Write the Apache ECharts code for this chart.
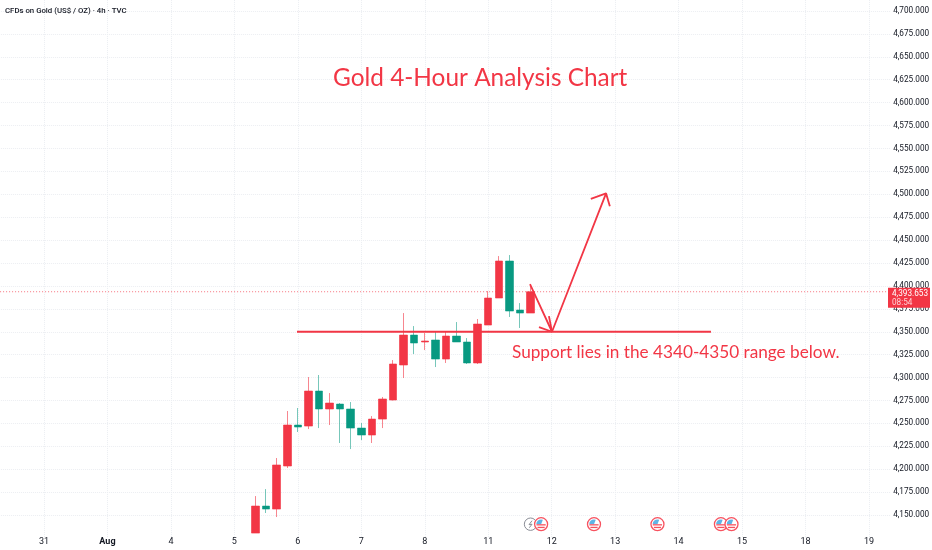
<!DOCTYPE html>
<html>
<head>
<meta charset="utf-8">
<style>html,body{margin:0;padding:0;background:#fff}#c{width:932px;height:550px}</style>
<script src="https://cdn.jsdelivr.net/npm/echarts@6/dist/echarts.min.js"></script>
</head>
<body>
<div id="c"></div>
<script>
// Day labels and the 4-hour slot they sit on
const dayLabels = ['31','Aug','4','5','6','7','8','11','12','13','14','15','18','19'];
const daySlots  = [5,11,17,23,29,35,41,47,53,59,65,71,77,83];
const slotCount = 86;
const firstCandleSlot = 25;

// Candles (prices)
const opens  = [4130.3,4159.8,4156.5,4203.5,4248.2,4247.1,4285.3,4265.7,4271.1,4265.7,4244.9,4237.3,4254.7,4275.5,4313.7,4346.4,4338.8,4341.0,4320.2,4345.3,4338.8,4315.9,4357.3,4386.8,4427.2,4373.7,4370.4];
const closes = [4159.8,4156.5,4204.6,4248.2,4246.0,4285.3,4265.7,4272.2,4265.7,4244.9,4237.3,4254.7,4276.6,4314.8,4346.4,4337.7,4339.9,4320.2,4345.3,4338.8,4315.9,4358.4,4386.8,4427.2,4372.6,4370.4,4393.653];
const lows   = [4130.3,4152.2,4147.8,4201.3,4240.6,4243.8,4244.9,4248.2,4228.6,4222.0,4231.8,4228.6,4244.9,4275.0,4299.5,4325.7,4330.0,4311.5,4315.9,4338.8,4314.8,4314.8,4357.3,4386.8,4366.1,4354.1,4370.4];
const highs  = [4170.7,4178.3,4212.2,4263.5,4266.8,4300.6,4302.8,4283.1,4272.2,4273.3,4250.4,4258.0,4278.8,4319.1,4370.4,4356.2,4348.6,4350.8,4350.8,4360.6,4343.1,4363.9,4394.4,4432.6,4433.7,4381.3,4402.1];
const lastPrice = 4393.653;
const countdown = '08:54';

// Annotations as [slot, price]
const supportLine = [[28.92,4350],[68.06,4350]];
const arrowPath   = [[50.95,4402],[53.03,4350],[58.14,4501]];
const arrowHeadA  = [[51.8,4355],[53.03,4350],[52.74,4367]];
const arrowHeadB  = [[56.7,4495],[58.14,4501],[58.5,4487]];

// Calendar event markers
const usEventSlots = [52,57,63,69,70];
const flashEventSlots = [51];
const eventPrice = 4140;

const titleText = 'Gold 4-Hour Analysis Chart';
const noteText = 'Support lies in the 4340-4350 range below.';
const headerText = 'CFDs on Gold (US$ / OZ) · 4h · TVC';

const RED = '#f23645', GREEN = '#089981';
const FONT = 'Roboto, sans-serif';
const ANNOT = 'Lato, sans-serif';

const categories = Array.from({length: slotCount}, (_, i) => {
  const k = daySlots.indexOf(i);
  return k >= 0 ? dayLabels[k] : '';
});
const candles = categories.map((_, s) => {
  const i = s - firstCandleSlot;
  return i >= 0 && i < opens.length ? [opens[i], closes[i], lows[i], highs[i]] : ['-','-','-','-'];
});

const gridColors = ['rgba(0,0,0,0)'].concat(Array(30).fill('#eceef2'));

function annotation(data, w) {
  return {
    type: 'line', xAxisIndex: 1, yAxisIndex: 0, data, showSymbol: false, symbol: 'none',
    silent: true, z: 5, clip: false, animation: false,
    lineStyle: {color: RED, width: w || 1.8}
  };
}

function renderUs(params, api) {
  const p = api.coord([api.value(0), api.value(1)]);
  const r = 6.5;
  return {
    type: 'group', x: p[0], y: p[1],
    children: [
      {type:'circle', shape:{cx:0,cy:0,r:r}, style:{fill:'#fff',stroke:'#f7525f',lineWidth:1.3}},
      {type:'sector', shape:{cx:0,cy:0,r0:0,r:4.8,startAngle:Math.PI,endAngle:Math.PI*1.62}, style:{fill:'#5fb4e6'}},
      {type:'rect', shape:{x:-4.6,y:0,width:9.2,height:1.3}, style:{fill:'#f7525f'}},
      {type:'rect', shape:{x:-3.6,y:2.6,width:7.2,height:1.3}, style:{fill:'#f7525f'}}
    ]
  };
}
function renderFlash(params, api) {
  const p = api.coord([api.value(0), api.value(1)]);
  return {
    type: 'group', x: p[0], y: p[1],
    children: [
      {type:'circle', shape:{cx:0,cy:0,r:6.2}, style:{fill:'#fff',stroke:'#8a8d96',lineWidth:1}},
      {type:'polyline', shape:{points:[[1.5,-3.5],[-1.5,0.5],[1.5,0],[-1.2,3.5]]}, style:{fill:'none',stroke:'#8a8d96',lineWidth:1}}
    ]
  };
}

const chart = echarts.init(document.getElementById('c'), null, {renderer:'canvas'});
chart.setOption({
  animation: false,
  backgroundColor: '#ffffff',
  title: [
    {text: titleText, left: 328, top: 61, textStyle:{color:RED,fontSize:24.4,fontWeight:'normal',fontFamily:ANNOT}},
    {text: noteText, left: 507, top: 339, textStyle:{color:RED,fontSize:17.2,fontWeight:'normal',fontFamily:ANNOT}},
    {text: headerText, left: 0, top: 2, textStyle:{color:'#131722',fontSize:7.8,fontWeight:500,fontFamily:FONT}}
  ],
  grid: {left: -8.9, top: -11.9, width: 899.05, height: 549.84, containLabel:false, outerBoundsMode:'none'},
  xAxis: [
    {
      type:'category', data: categories, boundaryGap:false,
      axisLine:{show:false}, axisTick:{show:false},
      axisLabel:{
        interval:0, margin:-1, color:'#131722', fontSize:9, fontFamily:FONT,
        hideOverlap:false, showMinLabel:true, showMaxLabel:true,
        formatter: v => v === 'Aug' ? '{b|Aug}' : v,
        rich:{b:{fontWeight:'bold',fontSize:9,color:'#131722',fontFamily:FONT}}
      },
      splitLine:{show:true, interval:(i) => daySlots.includes(i), lineStyle:{color:'#eceef2',type:'dotted',width:1}}
    },
    {type:'value', show:false, min:0, max:slotCount-1, splitLine:{show:false}}
  ],
  yAxis: [{
    type:'value', position:'right', min:4125, max:4725, interval:25, scale:false,
    axisLine:{show:false}, axisTick:{show:false},
    axisLabel:{
      margin:3, color:'#131722', fontSize:8.2, fontFamily:FONT, align:'left', padding:[2,0,0,0],
      showMinLabel:true, showMaxLabel:true,
      formatter: v => (v < 4150 || v > 4700) ? '' : v.toLocaleString('en-US',{minimumFractionDigits:3,maximumFractionDigits:3})
    },
    splitLine:{show:true, lineStyle:{color:gridColors,type:'dotted',width:1}}
  }],
  series: [
    {
      type:'line', xAxisIndex:1, yAxisIndex:0, showSymbol:false, symbol:'none', silent:true, z:2,
      data:[[0,lastPrice],[slotCount-1,lastPrice]],
      lineStyle:{color:'#f7727d',type:[1,2],width:1}
    },
    {
      type:'candlestick', xAxisIndex:0, yAxisIndex:0, data:candles, barWidth:8, z:3,
      itemStyle:{
        color:RED, color0:GREEN,
        borderColor:'rgba(242,54,69,0.6)', borderColor0:'rgba(8,153,129,0.55)', borderWidth:1
      }
    },
    annotation(supportLine),
    annotation(arrowPath),
    annotation(arrowHeadA),
    annotation(arrowHeadB),
    {type:'custom', xAxisIndex:1, yAxisIndex:0, z:6, clip:false, silent:true,
     data:flashEventSlots.map(s => [s,eventPrice]), renderItem:renderFlash, encode:{x:0,y:1}},
    {type:'custom', xAxisIndex:1, yAxisIndex:0, z:7, clip:false, silent:true,
     data:usEventSlots.map(s => [s,eventPrice]), renderItem:renderUs, encode:{x:0,y:1}}
  ]
});

// Last-price tag on the price scale, placed from the axis scale
const tagY = chart.convertToPixel({yAxisIndex:0}, lastPrice);
chart.setOption({
  graphic: [{
    type:'group', x:888, y:tagY - 4, z:20,
    children:[
      {type:'rect', z:20, shape:{x:0,y:0,width:42,height:20}, style:{fill:RED}},
      {type:'text', z:21, x:4, y:2, style:{text:lastPrice.toFixed(3).replace(/^(\d)(\d{3})/,'$1,$2'), fill:'#ffffff', fontSize:8.2, fontFamily:FONT}},
      {type:'text', z:21, x:4, y:11, style:{text:countdown, fill:'#ffd0d4', fontSize:8.2, fontFamily:FONT}}
    ]
  }]
});
</script>
</body>
</html>
